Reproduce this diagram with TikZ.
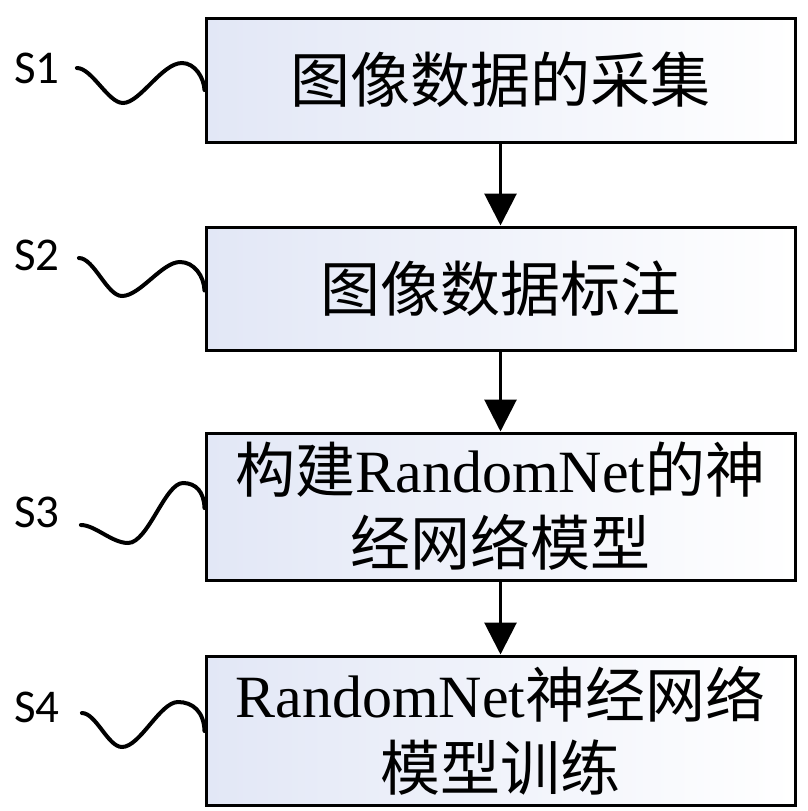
\documentclass[tikz,border=0pt]{standalone}
\usepackage{fontspec}
\setmainfont{Liberation Serif}
\newfontfamily\cjk{Noto Sans CJK SC}
\newfontfamily\stepfont{Carlito}
\usepackage{tikz}
\usetikzlibrary{positioning, arrows.meta, calc}

\definecolor{boxblue}{RGB}{226,231,246}

\tikzset{
    stepbox/.style={draw, line width=3pt, left color=boxblue, right color=white,
        minimum width=589pt, inner sep=0pt, align=center,
        font=\cjk\fontsize{60}{73}\selectfont},
    steplabel/.style={inner sep=0pt, font=\stepfont\fontsize{47}{47}\selectfont},
    wave/.style={line width=4pt, line cap=round},
    flow/.style={line width=3pt, -{Triangle[length=32pt, width=32pt]}}
}

\begin{document}
\begin{tikzpicture}[x=1pt, y=-1pt]
        \useasboundingbox (0,0) rectangle (808,811);

        \node[stepbox, minimum height=124pt] (st1) at (500.5,80) {图像数据的采集};
        \node[stepbox, minimum height=123pt, below=82pt of st1] (st2) {图像数据标注};
        \node[stepbox, minimum height=147pt, below=80pt of st2] (st3)
            {构建{\rmfamily RandomNet}的神\\经网络模型};
        \node[stepbox, minimum height=149pt, below=73pt of st3] (st4)
            {{\rmfamily RandomNet}神经网络\\模型训练};

        \node[steplabel] (lb1) at (37,68) {S1};
        \node[steplabel] (lb2) at (37,255) {S2};
        \node[steplabel] (lb3) at (37,512) {S3};
        \node[steplabel] (lb4) at (37,707) {S4};

        \draw[flow] (st1) -- (st2);
        \draw[flow] (st2) -- (st3);
        \draw[flow] (st3) -- (st4);

        \draw[wave] ([xshift=17pt]lb1.east)
            .. controls (92,68) and (108,103) .. (123,103)
            .. controls (140,103) and (162,63) .. (182,63)
            .. controls (195,63) and (204,78) .. ([yshift=-10pt]st1.west);
        \draw[wave] ([xshift=19pt, yshift=-3pt]lb2.east)
            .. controls (94,258) and (107,296) .. (122,296)
            .. controls (140,296) and (162,262) .. (180,262)
            .. controls (194,262) and (204,276) .. ([yshift=-2pt]st2.west);
        \draw[wave] ([xshift=21pt, yshift=-13pt]lb3.east)
            .. controls (95,525) and (112,543) .. (128,543)
            .. controls (148,543) and (165,483) .. (183,483)
            .. controls (196,483) and (204,492) .. ([yshift=-1.5pt]st3.west);
        \draw[wave] ([xshift=22pt, yshift=-6pt]lb4.east)
            .. controls (96,713) and (108,747) .. (122,747)
            .. controls (140,747) and (160,702) .. (178,702)
            .. controls (193,702) and (204,712) .. ([yshift=-0.5pt]st4.west);
    \end{tikzpicture}
\end{document}
